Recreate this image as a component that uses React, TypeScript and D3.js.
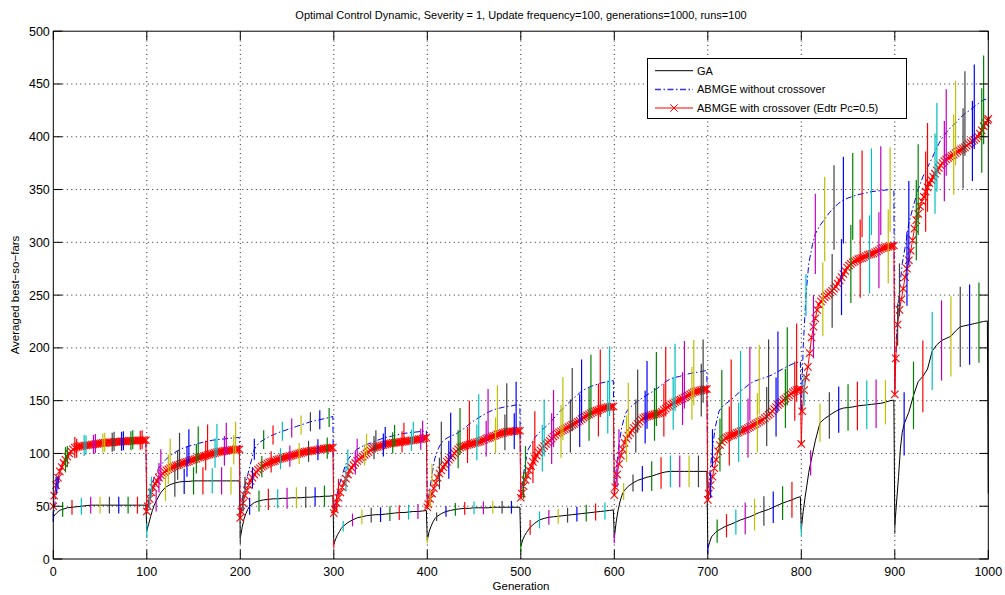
import React from "react";
import * as d3 from "d3";

// Generation offsets (within each 100-generation environment) at which each run was recorded
const GA_OFFSETS = [0, 2, 4, 6, 8, 10, 15, 20, 25, 30, 35, 40, 45, 50, 55, 60, 65, 70, 75, 80, 85, 90, 95, 99];
const NOX_OFFSETS = [0, 2, 5, 8, 12, 15, 20, 25, 30, 35, 40, 45, 50, 55, 60, 65, 70, 75, 80, 85, 90, 95, 99];
const X_OFFSETS = [0, 1, 3, 5, 7, 9, 11, 13, 15, 17, 19, 21, 23, 25, 27, 29, 31, 33, 35, 37, 39, 41, 43, 45, 47, 49,
  51, 53, 55, 57, 59, 61, 63, 65, 67, 69, 71, 73, 75, 77, 79, 81, 83, 85, 87, 89, 91, 93, 95, 97, 99];

// GA: averaged best-so-far per environment
const GA_SEGMENTS: number[][] = [
  [40, 42, 44, 45.5, 46.5, 47, 48.5, 49, 49.5, 50, 50.5, 51, 51, 51, 51, 51, 51, 51, 51, 51, 51, 51, 51, 51],
  [27, 33, 40, 46, 51, 55, 63, 68, 70.5, 72, 73, 73.5, 73.5, 74, 74, 74, 74, 74, 74, 74, 74, 74, 74, 74],
  [20, 30, 38, 43, 47, 50, 53.5, 55, 56, 56.5, 57, 57, 57.5, 57.5, 58, 58, 58, 58.5, 58.5, 59, 59, 59.5, 59.5, 60],
  [14, 19, 23, 26, 29, 31, 34.5, 37, 39, 40, 41, 41.5, 42, 42, 42.5, 43, 43.5, 44, 44, 44.5, 45, 45, 45.5, 46],
  [18, 26, 31, 35, 38, 40, 43, 45, 46, 47, 47.5, 48, 48, 48.5, 48.5, 48.5, 48.5, 49, 49, 49, 49, 49, 49, 49],
  [12, 18, 22, 25, 27.5, 30, 34, 37, 38.5, 39.5, 40, 40.5, 41, 41.5, 42, 42.5, 43, 43.5, 44, 44.5, 45, 45.5, 46, 46.5],
  [20, 35, 46, 54, 60, 64, 69, 72, 74.5, 76, 77.5, 78.5, 80, 81.5, 82.5, 83, 83, 83, 83, 83, 83, 83, 83, 83],
  [10, 16, 21, 23, 25, 26.5, 29, 31.5, 33, 35, 37, 38.5, 40, 42, 44, 45.5, 47, 49, 51, 53, 54.5, 56, 58, 59],
  [28, 45, 58, 70, 82, 91, 112, 129, 133, 136, 139, 141.5, 143, 143.5, 144, 145, 145.5, 146, 146.5, 147, 147.5, 148.5, 150, 150.5],
  [32, 55, 78, 105, 120, 128, 139, 155, 168, 173, 180, 197, 203, 207, 209, 211, 216, 220, 221, 222, 223, 224, 225, 225.5],
];
const GA_LAST = 62;

// ABMGE without crossover
const NOX_SEGMENTS: number[][] = [
  [37, 55, 72, 84, 93, 97, 102, 105, 107, 108, 109, 109.5, 110, 110.5, 111, 111.5, 112, 112, 112.5, 113, 113, 113, 113],
  [45, 55, 68, 77, 85, 89, 94, 98, 101, 103.5, 105.5, 107, 108, 109.5, 110.5, 111.5, 112.5, 113, 113.5, 114, 114.5, 115, 115],
  [40, 55, 70, 80, 94, 104, 110, 113, 115.5, 117.5, 119.5, 121, 122.5, 124, 125.5, 127, 128.5, 130, 131, 132, 133, 134, 135],
  [45, 55, 68, 76, 88, 94, 100, 104, 106.5, 108.5, 110, 112, 113.5, 115, 116, 117, 118, 119, 119.5, 120, 120.5, 121, 121.5],
  [48, 62, 80, 95, 105, 110, 114, 116.5, 118, 121, 124, 128, 131, 134, 136.5, 139, 141, 142.5, 143.5, 144.5, 145, 146, 146],
  [58, 75, 92, 104, 110, 115, 120, 124, 128, 133, 138, 142.5, 147, 151, 155, 159, 161.5, 163.5, 165, 166.5, 167.5, 168.5, 169],
  [60, 85, 108, 125, 138, 142, 146, 149.5, 152.5, 155.5, 158, 161, 164.5, 168, 170.5, 172, 173, 174.5, 175.5, 176.5, 177, 178, 178.5],
  [55, 80, 105, 125, 140, 144, 147.5, 151, 155, 159, 162.5, 166, 168.5, 170, 171.5, 173, 175, 177.5, 180, 182.5, 184.5, 186, 187],
  [140, 200, 250, 280, 298, 308, 316, 322, 328, 333, 337, 340, 342, 343.5, 345, 346, 347, 348, 348.5, 349, 349.5, 350, 350],
  [160, 215, 255, 280, 300, 318, 335, 350, 362, 371, 380, 390, 398, 404, 409, 413, 418, 422, 425, 428.5, 432, 435, 436],
];
const NOX_LAST = 437;

// ABMGE with crossover (Edtr Pc=0.5)
const X_SEGMENTS: number[][] = [
  [50, 60, 70, 77, 83, 87, 91, 94, 97, 100, 102, 104, 105.5, 106, 106.5, 107, 107, 107.5, 107.5, 108, 108, 108.5,
    108.5, 109, 109, 109.5, 109.5, 110, 110, 110, 110.5, 110.5, 110.5, 111, 111, 111, 111, 111.5, 111.5, 111.5, 111.5, 112,
    112, 112, 112, 112, 112.5, 112.5, 112.5, 112.5, 112.5],
  [45, 50, 57, 63, 67.5, 71, 74, 77, 79.5, 81, 82.5, 84, 85, 86, 87, 87.5, 88.5, 89, 89.5, 90.5, 91, 91.5,
    92, 92.5, 93.5, 94, 94.5, 95, 96, 96.5, 97, 97.5, 98, 98.5, 99, 99.5, 100, 100.5, 101, 101.5, 102, 102,
    102.5, 102.5, 103, 103, 103.5, 103.5, 104, 104, 104],
  [39, 45, 53, 60, 65, 70, 74, 77, 80, 82.5, 84.5, 86, 87.5, 88.5, 89.5, 90.5, 91.5, 92, 92.5, 93, 94, 94.5,
    95, 95.5, 96, 96.5, 97, 97.5, 98, 98.5, 99, 99.5, 100, 100.5, 101, 101.5, 102, 102, 102.5, 102.5, 103, 103,
    103.5, 104, 104, 104.5, 104.5, 105, 105, 105.5, 105.5],
  [43.5, 47, 53, 58, 63, 68, 72, 76, 80, 84, 86.5, 89, 91, 93, 94.5, 96, 97, 98.5, 100, 101.5, 103, 104.5,
    105.5, 106, 106.5, 107, 107.5, 108, 108.5, 109, 109.5, 109.5, 110, 110, 110.5, 110.5, 111, 111, 111.5, 111.5, 112, 112,
    112.5, 112.5, 113, 113, 113.5, 113.5, 114, 114.5, 115],
  [49, 52, 57, 62, 67, 72, 77, 81, 84, 87, 89.5, 92, 94, 96, 98, 100, 102, 104, 105.5, 106.5, 107, 107.5,
    108, 108.5, 109, 109.5, 110, 110.5, 111, 111.5, 112.5, 113, 114, 114.5, 115, 116, 116.5, 117, 118, 118.5, 119, 119.5,
    120, 120.5, 120.5, 121, 121, 121, 121.5, 121.5, 121.5],
  [58, 62, 69, 75, 79, 84, 88, 92, 95, 98, 101, 103, 105, 107, 109, 110.5, 112, 114, 116, 117.5, 119, 120,
    121, 122, 123, 124, 125, 126, 127, 128, 129, 130, 131, 132.5, 134, 135, 136, 137, 138, 139, 140, 140.5,
    141, 142, 142.5, 143, 143.5, 144, 144, 144.5, 144.5],
  [60.5, 68, 80, 90, 98, 104, 110, 114, 117, 119.5, 122, 124, 126, 128, 130, 132, 133.5, 134.5, 135, 135.5, 136, 136.5,
    137, 137.5, 138, 138.5, 139.5, 141, 142.5, 144, 145, 146.5, 147.5, 148.5, 149.5, 150.5, 151, 152, 153, 154, 155, 156,
    157, 158, 158.5, 159, 159.5, 160, 160.5, 161, 161],
  [56, 62, 70, 78, 86, 94, 102, 108, 111, 113, 114.5, 115.5, 116.5, 117, 117.5, 118.5, 119.5, 120, 121, 121.5, 122.5, 123,
    124, 125, 126, 127, 128, 129, 130, 131, 132, 133.5, 135, 136.5, 138, 140, 142, 144, 146, 147.5, 149, 150.5,
    152, 153.5, 155, 156.5, 158, 159, 160, 160.5, 161],
  [109, 140, 160, 172, 182, 195, 210, 220, 228, 236, 241, 244, 246, 248, 249.5, 251, 252.5, 254, 256, 258, 261, 264,
    267, 270, 273, 276, 278, 279.5, 281, 282, 283, 284, 284.5, 285, 286, 287, 288, 288.5, 289, 289.5, 290.5, 291.5,
    292.5, 293.5, 294.5, 295, 295.5, 296, 296.5, 296.5, 297],
  [156, 190, 222, 236, 246, 256, 267, 275, 283, 292, 302, 313, 321, 327, 334, 339, 343, 348, 352, 356, 359, 362,
    365, 368, 370.5, 373, 375, 377, 378.5, 380, 381, 382, 383, 384.5, 386, 387, 388, 389, 390, 391.5, 393, 394.5,
    396, 397, 398.5, 400, 403, 406, 410, 413, 415.5],
];
const X_LAST = 417;

// Standard deviations for the error bars, one every 10 generations
const GA_STD = [
  5, 7, 7, 8, 8, 8, 8, 8, 8, 8,
  7, 10, 13, 13, 12, 13, 13, 12, 13, 13,
  6, 8, 10, 10, 9, 10, 10, 10, 9, 10,
  4, 5, 6, 7, 7, 7, 7, 7, 7, 7,
  3, 4, 5, 6, 6, 6, 6, 6, 6, 6,
  5, 7, 8, 7, 7, 7, 7, 8, 8, 8,
  5, 8, 8, 12, 14, 15, 15, 15, 15, 15,
  5, 11, 11, 12, 15, 15, 14, 15, 16, 17,
  6, 12, 18, 22, 22, 22, 23, 23, 23, 21,
  8, 30, 32, 34, 37, 38, 38, 38, 38, 38,
];
const NOX_STD = [
  6, 10, 9, 9, 9, 9, 9, 9, 9, 9,
  10, 15, 16, 16, 16, 16, 16, 15, 15, 15,
  8, 10, 9, 9, 9, 9, 9, 9, 9, 9,
  8, 10, 10, 10, 10, 10, 10, 10, 10, 10,
  10, 20, 22, 22, 22, 22, 22, 22, 22, 22,
  15, 25, 27, 27, 30, 30, 30, 30, 32, 33,
  15, 25, 30, 32, 35, 33, 32, 32, 31, 30,
  18, 35, 38, 38, 35, 33, 35, 38, 37, 37,
  20, 38, 40, 40, 41, 41, 41, 41, 42, 40,
  25, 40, 43, 42, 42, 41, 40, 40, 40, 42,
];
const X_STD = [
  8, 12, 10, 10, 9, 9, 9, 9, 9, 9,
  10, 14, 14, 14, 14, 14, 14, 14, 14, 14,
  8, 10, 10, 10, 10, 10, 10, 10, 10, 10,
  8, 12, 11, 10, 11, 11, 10, 10, 10, 10,
  8, 15, 18, 18, 17, 17, 17, 17, 17, 17,
  12, 20, 22, 24, 25, 25, 25, 25, 25, 25,
  12, 22, 25, 25, 25, 25, 25, 25, 25, 25,
  12, 25, 28, 28, 28, 28, 28, 28, 28, 28,
  15, 30, 35, 35, 36, 37, 37, 37, 36, 35,
  20, 35, 38, 38, 38, 38, 38, 38, 38, 40,
];

const X_TICKS = [0, 100, 200, 300, 400, 500, 600, 700, 800, 900, 1000];
const Y_TICKS = [0, 50, 100, 150, 200, 250, 300, 350, 400, 450, 500];
const BAR_COLORS = ["#0000ff", "#008000", "#ff0000", "#00bfbf", "#bf00bf", "#bfbf00", "#404040"];

const TITLE = "Optimal Control Dynamic, Severity = 1, Update frequency=100, generations=1000, runs=100";
const LEGEND = ["GA", "ABMGE without crossover", "ABMGE with crossover (Edtr Pc=0.5)"];
const FONT = "'Liberation Sans', Arial, Helvetica, sans-serif";

type Pt = [number, number];

function buildSeries(segs: number[][], offsets: number[], last: number): Pt[] {
  const pts: Pt[] = [];
  segs.forEach((vals, k) => vals.forEach((v, j) => pts.push([100 * k + offsets[j], v])));
  pts.push([1000, last]);
  return pts;
}

function buildBars(pts: Pt[], start: number, std: number[]) {
  const lookup = new Map(pts.map((p) => [p[0], p[1]] as [number, number]));
  return std.map((s, i) => {
    const g = 10 * i + start;
    return { g, v: lookup.get(g) ?? 0, s, color: BAR_COLORS[i % 7] };
  });
}

export default function App() {
  const x = d3.scaleLinear().domain([0, 1000]).range([53.3, 988.3]);
  const y = d3.scaleLinear().domain([0, 500]).range([559, 31.2]);
  const [x0, x1] = x.range();
  const [yb, yt] = y.range();

  const ga = buildSeries(GA_SEGMENTS, GA_OFFSETS, GA_LAST);
  const nox = buildSeries(NOX_SEGMENTS, NOX_OFFSETS, NOX_LAST);
  const xo = buildSeries(X_SEGMENTS, X_OFFSETS, X_LAST);

  const line = d3.line<Pt>().x((d) => x(d[0])).y((d) => y(d[1]));

  const bars = [
    ...buildBars(ga, 0, GA_STD),
    ...buildBars(xo, 3, X_STD),
    ...buildBars(nox, 5, NOX_STD),
  ];

  const m = 3.7;
  const markerPath = xo
    .map(([g, v]) => {
      const cx = x(g), cy = y(v);
      return `M${cx - m},${cy - m}L${cx + m},${cy + m}M${cx - m},${cy + m}L${cx + m},${cy - m}`;
    })
    .join("");

  const tick = 9;
  const legend = { x: 647.5, y: 58.5, w: 259, h: 60 };
  const rowY = [70.7, 89.5, 108];

  return (
    <svg
      width={1005}
      height={595}
      style={{ position: "absolute", left: 0, top: 0, background: "#fff" }}
      fontFamily={FONT}
    >
      <rect x={0} y={0} width={1005} height={595} fill="#fff" />
      {/* grid */}
      <g stroke="#000" strokeWidth={1} strokeDasharray="1,3.5" opacity={0.85}>
        {X_TICKS.slice(1, -1).map((t) => (
          <line key={`gx${t}`} x1={x(t)} x2={x(t)} y1={yb} y2={yt} />
        ))}
        {Y_TICKS.slice(1, -1).map((t) => (
          <line key={`gy${t}`} x1={x0} x2={x1} y1={y(t)} y2={y(t)} />
        ))}
      </g>

      {/* series */}
      <path d={line(ga) ?? ""} fill="none" stroke="#000" strokeWidth={1} />
      <path d={line(nox) ?? ""} fill="none" stroke="#0000ff" strokeWidth={1} strokeDasharray="6,2.5,1.5,2.5" />
      <path d={line(xo) ?? ""} fill="none" stroke="#ff0000" strokeWidth={1} />
      <path d={markerPath} fill="none" stroke="#ff0000" strokeWidth={1.1} />

      {/* error bars */}
      <g strokeWidth={1.2}>
        {bars.map((b, i) => (
          <line key={`b${i}`} x1={x(b.g)} x2={x(b.g)} y1={y(b.v - b.s)} y2={y(b.v + b.s)} stroke={b.color} />
        ))}
      </g>

      {/* axes box and ticks */}
      <rect x={x0} y={yt} width={x1 - x0} height={yb - yt} fill="none" stroke="#000" strokeWidth={1} />
      <g stroke="#000" strokeWidth={1}>
        {X_TICKS.map((t) => (
          <g key={`tx${t}`}>
            <line x1={x(t)} x2={x(t)} y1={yb} y2={yb - tick} />
            <line x1={x(t)} x2={x(t)} y1={yt} y2={yt + tick} />
          </g>
        ))}
        {Y_TICKS.map((t) => (
          <g key={`ty${t}`}>
            <line x1={x0} x2={x0 + tick} y1={y(t)} y2={y(t)} />
            <line x1={x1} x2={x1 - tick} y1={y(t)} y2={y(t)} />
          </g>
        ))}
      </g>
      <g fontSize={12.5} fill="#000">
        {X_TICKS.map((t) => (
          <text key={`lx${t}`} x={x(t)} y={576} textAnchor="middle">{t}</text>
        ))}
        {Y_TICKS.map((t) => (
          <text key={`ly${t}`} x={x0 - 3.5} y={y(t)} dy="0.36em" textAnchor="end">{t}</text>
        ))}
      </g>

      <text x={521} y={19} textAnchor="middle" fontSize={11}>{TITLE}</text>
      <text x={521} y={589.5} textAnchor="middle" fontSize={11.5}>Generation</text>
      <text transform="translate(19,295) rotate(-90)" textAnchor="middle" fontSize={11.5}>
        Averaged best−so−fars
      </text>

      {/* legend */}
      <rect x={legend.x} y={legend.y} width={legend.w} height={legend.h} fill="#fff" stroke="#000" strokeWidth={1} />
      <line x1={655} x2={693} y1={rowY[0]} y2={rowY[0]} stroke="#000" strokeWidth={1} />
      <line x1={655} x2={693} y1={rowY[1]} y2={rowY[1]} stroke="#3333ff" strokeWidth={1.3} strokeDasharray="6,2.5,1.5,2.5" />
      <line x1={655} x2={693} y1={rowY[2]} y2={rowY[2]} stroke="#ff0000" strokeWidth={1} />
      <path
        d={`M${674 - m},${rowY[2] - m}L${674 + m},${rowY[2] + m}M${674 - m},${rowY[2] + m}L${674 + m},${rowY[2] - m}`}
        stroke="#ff0000"
        strokeWidth={1}
      />
      {LEGEND.map((t, i) => (
        <text key={t} x={697} y={rowY[i]} dy="0.36em" fontSize={11}>{t}</text>
      ))}
    </svg>
  );
}
